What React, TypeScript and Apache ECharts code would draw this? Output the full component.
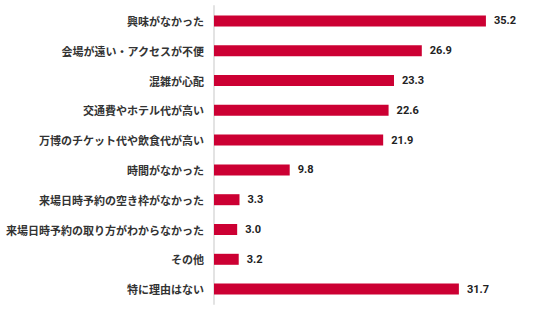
import React, { useEffect, useRef } from "react";
import * as echarts from "echarts";

const categories = [
  "興味がなかった",
  "会場が遠い・アクセスが不便",
  "混雑が心配",
  "交通費やホテル代が高い",
  "万博のチケット代や飲食代が高い",
  "時間がなかった",
  "来場日時予約の空き枠がなかった",
  "来場日時予約の取り方がわからなかった",
  "その他",
  "特に理由はない",
];
const values = [35.2, 26.9, 23.3, 22.6, 21.9, 9.8, 3.3, 3.0, 3.2, 31.7];

export default function App() {
  const ref = useRef<HTMLDivElement>(null);
  useEffect(() => {
    const chart = echarts.init(ref.current!, null, { renderer: "svg" });
    chart.setOption({
      animation: false,
      grid: { left: 214, right: 13, top: 6, bottom: 6, containLabel: false },
      xAxis: {
        type: "value",
        min: 0,
        max: 40,
        show: false,
      },
      yAxis: {
        type: "category",
        data: categories,
        inverse: true,
        axisLine: { show: true, lineStyle: { color: "#e3e3e3", width: 2 } },
        axisTick: { show: false },
        axisLabel: {
          margin: 10,
          color: "#333",
          fontSize: 11,
          fontWeight: "bold",
          fontFamily: "Noto Sans CJK JP",
        },
      },
      series: [
        {
          type: "bar",
          data: values,
          barWidth: 11,
          itemStyle: { color: "#CC0033" },
          label: {
            show: true,
            position: "right",
            distance: 8,
            color: "#222",
            fontSize: 11,
            fontWeight: "bold",
            fontFamily: "Roboto",
            formatter: (p: any) => Number(p.value).toFixed(1),
          },
        },
      ],
    });
    return () => chart.dispose();
  }, []);
  return (
    <div
      ref={ref}
      style={{ position: "fixed", left: 0, top: 0, width: 536, height: 310, background: "#fff" }}
    />
  );
}
